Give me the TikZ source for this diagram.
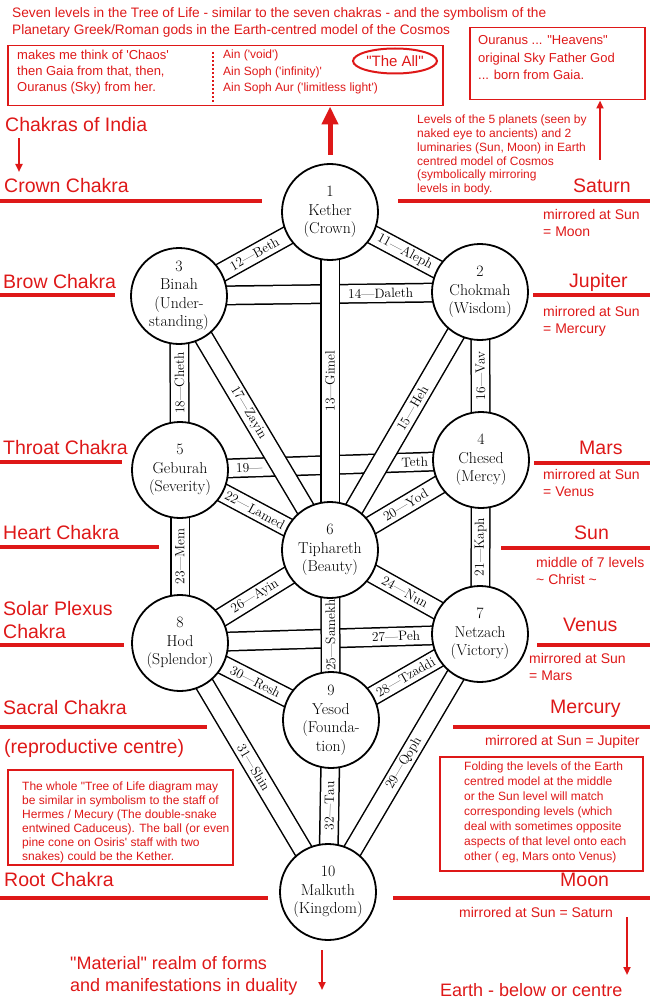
\documentclass[tikz,border=0pt]{standalone}
\usepackage{fontspec}
\newfontfamily\anot[Ligatures=TeXOff]{Liberation Sans}
\usetikzlibrary{arrows.meta,backgrounds,shapes.geometric}
\definecolor{vermelho}{RGB}{222,24,24}

\begin{document}
\begin{tikzpicture}[x=1pt,y=-1pt,
  sefira/.style={circle, draw, line width=1.8pt, fill=white, minimum size=96pt,
    inner sep=0pt, align=center, font=\fontsize{15.8}{18.5}\selectfont},
  canal/.style={double=white, double distance=17pt, line width=1.5pt},
  letra/.style={sloped, allow upside down, inner sep=0pt, font=\fontsize{13.5}{14}\selectfont},
  nivel/.style={vermelho, line width=4pt},
  grande/.style={text=vermelho, inner sep=0pt, anchor=west, align=left,
    font=\anot\fontsize{19.5}{23}\selectfont},
  nota/.style={text=vermelho, inner sep=0pt, anchor=west, align=left,
    font=\anot\fontsize{14}{17}\selectfont},
  caixa/.style={draw=vermelho, line width=1.5pt, inner sep=0pt, anchor=north west},
  seta/.style={vermelho, line width=2pt, -{Triangle[width=7pt,length=8pt]}}]

\useasboundingbox (0,0) rectangle (650,1000);

% Titulo
\node[nota, font=\anot\fontsize{13.7}{17}\selectfont] (titulo) at (12,22)
  {Seven levels in the Tree of Life - similar to the seven chakras - and the symbolism of the\\
   Planetary Greek/Roman gods in the Earth-centred model of the Cosmos};

% Caixa de cima (Ain)
\node[caixa, minimum width=435pt, minimum height=60pt] (caos) at (7,45) {};
\node[nota, font=\anot\fontsize{13}{16}\selectfont] (gaia) at (17,72)
  {makes me think of 'Chaos'\\then Gaia from that, then,\\Ouranus (Sky) from her.};
\draw[vermelho, line width=2pt, dash pattern=on 2pt off 2pt] (213,52) -- (213,102);
\node[nota, font=\anot\fontsize{12}{16.5}\selectfont] (ain) at (223,72)
  {Ain ('void')\\Ain Soph ('infinity)'\\Ain Soph Aur ('limitless light')};
\node[ellipse, draw=vermelho, line width=2pt, text=vermelho, inner sep=1pt,
  minimum width=76pt, minimum height=25pt, font=\anot\fontsize{15}{17}\selectfont] (tudo) at (395,61) {"The All"};

% Caixa de Ouranus
\node[caixa, minimum width=175pt, minimum height=72pt] (ceu) at (469,27) {};
\node[nota, font=\anot\fontsize{13}{17.5}\selectfont] (ouranos) at (478,58)
  {Ouranus ... "Heavens"\\original Sky Father God\\... born from Gaia.};

% Setas para cima
\coordinate (setaini) at (330,155);
\draw[vermelho, line width=5pt, -{Triangle[width=16pt,length=18pt]}] (setaini) -- (caos.south -| setaini);
\coordinate (setaceu) at (600,160);
\draw[seta] (setaceu) -- (ceu.south -| setaceu);

% Chakras (esquerda)
\node[grande] (chakras) at (5,125) {Chakras of India};
\coordinate (chakrasfim) at (19,172);
\draw[seta] (chakras.south west -| chakrasfim) ++(0,6) -- (chakrasfim);
\node[grande] (crown) at (4,186) {Crown Chakra};
\node[grande] (brow) at (3,282) {Brow Chakra};
\node[grande] (throat) at (3,448) {Throat Chakra};
\node[grande] (heart) at (3,533) {Heart Chakra};
\node[grande] (solar) at (3,620) {Solar Plexus\\Chakra};
\node[grande] (sacral) at (3,708) {Sacral Chakra};
\node[grande] (reprod) at (4,748) {(reproductive centre)};
\node[grande] (root) at (4,880) {Root Chakra};

% Planetas (direita)
\node[nota, font=\anot\fontsize{12}{13.8}\selectfont] (niveis) at (417,155)
  {Levels of the 5 planets (seen by\\naked eye to ancients) and 2\\luminaries (Sun, Moon) in Earth\\
   centred model of Cosmos\\(symbolically mirroring\\levels in body.};
\node[grande] (saturn) at (573,186) {Saturn};
\node[nota] (saturnesp) at (543,223) {mirrored at Sun\\= Moon};
\node[grande] (jupiter) at (569,282) {Jupiter};
\node[nota] (jupiteresp) at (543,321) {mirrored at Sun\\= Mercury};
\node[grande] (mars) at (579,448) {Mars};
\node[nota] (marsesp) at (543,483) {mirrored at Sun\\= Venus};
\node[grande] (sun) at (574,533) {Sun};
\node[nota] (sunesp) at (536,571) {middle of 7 levels\\\textasciitilde{} Christ \textasciitilde};
\node[grande] (venus) at (563,625) {Venus};
\node[nota] (venusesp) at (529,667) {mirrored at Sun\\= Mars};
\node[grande] (mercury) at (550,709) {Mercury};
\node[nota] (mercuryesp) at (485,742) {mirrored at Sun = Jupiter};
\node[grande] (moon) at (560,880) {Moon};
\node[nota] (moonesp) at (459,912) {mirrored at Sun = Saturn};

% Linhas dos niveis
\draw[nivel] (0,201) -- (262,201);
\draw[nivel] (398,201) -- (650,201);
\draw[nivel] (0,295) -- (115,295);
\draw[nivel] (533,295) -- (650,295);
\draw[nivel] (0,462) -- (122,462);
\draw[nivel] (534,463) -- (650,463);
\draw[nivel] (0,547) -- (159,547);
\draw[nivel] (501,548) -- (650,548);
\draw[nivel] (0,645) -- (124,645);
\draw[nivel] (537,645) -- (650,645);
\draw[nivel] (0,727) -- (207,727);
\draw[nivel] (453,727) -- (650,727);
\draw[nivel] (0,898) -- (268,898);
\draw[nivel] (393,898) -- (650,898);

% Caixas de baixo
\node[caixa, minimum width=225pt, minimum height=95pt] (hermes) at (7,769) {};
\node[nota, font=\anot\fontsize{12}{14}\selectfont] (hermestxt) at (22,822)
  {The whole "Tree of Life diagram may\\be similar in symbolism to the staff of\\
   Hermes / Mecury (The double-snake\\entwined Caduceus). The ball (or even\\
   pine cone on Osiris' staff with two\\snakes) could be the Kether.};
\node[caixa, minimum width=203pt, minimum height=114pt] (dobra) at (439,756) {};
\node[nota, font=\anot\fontsize{12}{15}\selectfont] (dobratxt) at (464,812)
  {Folding the levels of the Earth\\centred model at the middle\\or the Sun level will match\\
   corresponding levels (which\\deal with sometimes opposite\\aspects of that level onto each\\
   other ( eg, Mars onto Venus)};

% Rodape
\node[grande, font=\anot\fontsize{18}{22}\selectfont] (material) at (70,976)
  {"Material" realm of forms\\and manifestations in duality};
\node[grande, font=\anot\fontsize{18}{22}\selectfont] (terra) at (440,990) {Earth - below or centre};
\coordinate (matini) at (322,950);
\coordinate (matfim) at (322,990);
\draw[seta] (matini) -- (matfim);
\coordinate (terraini) at (627,917);
\coordinate (terrafim) at (627,975);
\draw[seta] (terraini) -- (terrafim);

% Sefirot
\node[sefira] (kether) at (330,212) {1\\Kether\\(Crown)};
\node[sefira] (chokmah) at (480,292) {2\\Chokmah\\(Wisdom)};
\node[sefira] (binah) at (179,296) {3\\Binah\\(Under-\\standing)};
\node[sefira] (chesed) at (481,460) {4\\Chesed\\(Mercy)};
\node[sefira] (geburah) at (180,470) {5\\Geburah\\(Severity)};
\node[sefira] (tiphareth) at (330,550) {6\\Tiphareth\\(Beauty)};
\node[sefira] (netzach) at (480,634) {7\\Netzach\\(Victory)};
\node[sefira] (hod) at (180,643) {8\\Hod\\(Splendor)};
\node[sefira] (yesod) at (331,720) {9\\Yesod\\(Founda-\\tion)};
\node[sefira] (malkuth) at (328,892) {10\\Malkuth\\(Kingdom)};

% Caminhos
\begin{scope}[on background layer]
% os que passam por baixo
\draw[canal] (binah.center) -- node[letra, pos=0.67] {14—Daleth} (chokmah.center);
\draw[canal] (geburah.center) -- node[letra, pos=0.23] {19—} node[letra, pos=0.78] {Teth} (chesed.center);
\draw[canal] (hod.center) -- node[letra, pos=0.72] {27—Peh} (netzach.center);
% os outros
\draw[canal] (kether.center) -- node[letra] {11—Aleph} (chokmah.center);
\draw[canal] (binah.center) -- node[letra] {12—Beth} (kether.center);
\draw[canal] (tiphareth.center) -- node[letra] {13—Gimel} (kether.center);
\draw[canal] (tiphareth.center) -- node[letra, pos=0.55] {15—Heh} (chokmah.center);
\draw[canal] (chesed.center) -- node[letra] {16—Vav} (chokmah.center);
\draw[canal] (binah.center) -- node[letra, pos=0.46] {17—Zayin} (tiphareth.center);
\draw[canal] (geburah.center) -- node[letra] {18—Cheth} (binah.center);
\draw[canal] (tiphareth.center) -- node[letra] {20—Yod} (chesed.center);
\draw[canal] (netzach.center) -- node[letra] {21—Kaph} (chesed.center);
\draw[canal] (geburah.center) -- node[letra] {22—Lamed} (tiphareth.center);
\draw[canal] (hod.center) -- node[letra] {23—Mem} (geburah.center);
\draw[canal] (tiphareth.center) -- node[letra] {24—Nun} (netzach.center);
\draw[canal] (yesod.center) -- node[letra] {25—Samekh} (tiphareth.center);
\draw[canal] (hod.center) -- node[letra] {26—Ayin} (tiphareth.center);
\draw[canal] (yesod.center) -- node[letra] {28—Tzaddi} (netzach.center);
\draw[canal] (malkuth.center) -- node[letra] {29—Qoph} (netzach.center);
\draw[canal] (hod.center) -- node[letra] {30—Resh} (yesod.center);
\draw[canal] (hod.center) -- node[letra] {31—Shin} (malkuth.center);
\draw[canal] (malkuth.center) -- node[letra] {32—Tau} (yesod.center);
\end{scope}

\end{tikzpicture}
\end{document}
